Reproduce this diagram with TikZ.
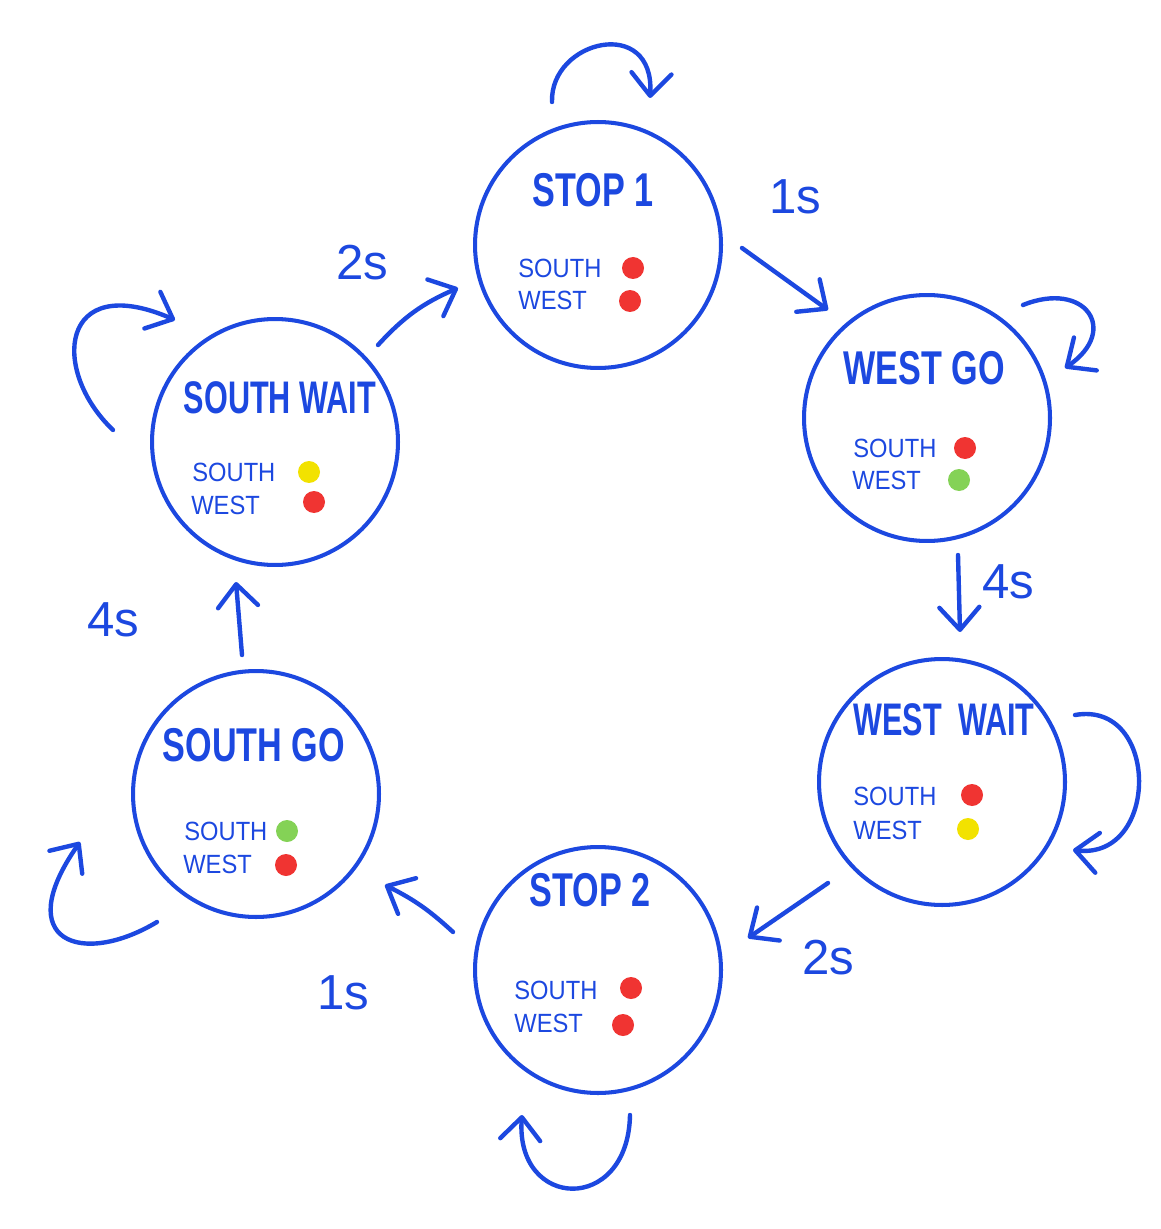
\documentclass[tikz,border=0pt]{standalone}
\usepackage{fontspec}
\setmainfont{Liberation Sans}
\newfontfamily\titlefont[FakeStretch=0.72]{Liberation Sans}
\newfontfamily\narrowtitlefont[FakeStretch=0.67]{Liberation Sans}
\newfontfamily\lightfont[FakeStretch=0.9]{Liberation Sans}
\usetikzlibrary{arrows.meta,calc}
\definecolor{hblue}{RGB}{28,72,224}
\definecolor{lred}{RGB}{240,52,50}
\definecolor{lgreen}{RGB}{132,210,86}
\definecolor{lyellow}{RGB}{242,226,0}
\tikzset{
  statebox/.style={circle,draw=hblue,line width=2.3pt,minimum size=4.92cm,inner sep=0pt},
  titletext/.style={text=hblue,font=\titlefont\bfseries\fontsize{27}{30}\selectfont,inner sep=0pt},
  waittext/.style={text=hblue,font=\narrowtitlefont\bfseries\fontsize{26}{30}\selectfont,inner sep=0pt},
  lighttext/.style={text=hblue,font=\lightfont\fontsize{15}{17}\selectfont,anchor=west,inner sep=0pt},
  lamp/.style={circle,inner sep=0pt,minimum size=0.44cm,fill=#1},
  trans/.style={draw=hblue,line width=2.5pt,line cap=round,line join=round,
     -{Straight Barb[length=4.5mm,width=8mm,round]}},
  timetext/.style={text=hblue,font=\fontsize{28}{30}\selectfont,inner sep=0pt}
}
\begin{document}
\begin{tikzpicture}[x=0.02cm,y=-0.02cm]
\fill[white] (0,0) rectangle (1160,1229);
\useasboundingbox (0,0) rectangle (1160,1229);

% states
\node[statebox] (s1) at (598,245) {};
\node[statebox] (wg) at (927,418) {};
\node[statebox] (ww) at (942,782) {};
\node[statebox] (s2) at (598,970) {};
\node[statebox] (sg) at (256,794) {};
\node[statebox] (sw) at (275,442) {};

% titles
\node[titletext] (t1) at (593,190) {STOP 1};
\node[titletext] (t2) at (924,368) {WEST GO};
\node[waittext] (t3) at (944,720) {WEST\, WAIT};
\node[titletext] (t4) at (590,890) {STOP 2};
\node[titletext] (t5) at (254,745) {SOUTH GO};
\node[waittext] (t6) at (280,398) {SOUTH WAIT};

% lights
\node[lighttext] (s1s) at (518,268) {SOUTH};
\node[lighttext] (s1w) at (518,300) {WEST};
\node[lamp=lred] (s1a) at (633,268) {};
\node[lamp=lred] (s1b) at (630,301) {};

\node[lighttext] (wgs) at (853,448) {SOUTH};
\node[lighttext] (wgw) at (852,480) {WEST};
\node[lamp=lred] (wga) at (965,448) {};
\node[lamp=lgreen] (wgb) at (959,480) {};

\node[lighttext] (wws) at (853,796) {SOUTH};
\node[lighttext] (www) at (853,830) {WEST};
\node[lamp=lred] (wwa) at (972,795) {};
\node[lamp=lyellow] (wwb) at (968,829) {};

\node[lighttext] (s2s) at (514,990) {SOUTH};
\node[lighttext] (s2w) at (514,1023) {WEST};
\node[lamp=lred] (s2a) at (631,988) {};
\node[lamp=lred] (s2b) at (623,1025) {};

\node[lighttext] (sgs) at (184,831) {SOUTH};
\node[lighttext] (sgw) at (183,864) {WEST};
\node[lamp=lgreen] (sga) at (287,831) {};
\node[lamp=lred] (sgb) at (286,865) {};

\node[lighttext] (sws) at (192,472) {SOUTH};
\node[lighttext] (sww) at (191,505) {WEST};
\node[lamp=lyellow] (swa) at (309,472) {};
\node[lamp=lred] (swb) at (314,502) {};

% transitions
\draw[trans] ($(s1.center)+(144,3)$) -- ($(wg.center)+(-99,-108)$);
\draw[trans] ($(wg.center)+(31,137)$) -- ($(ww.center)+(18,-150)$);
\draw[trans] ($(ww.center)+(-114,101)$) -- ($(s2.center)+(150,-32)$);
\draw[trans] ($(s2.center)+(-145,-38)$) to[bend right=8] ($(sg.center)+(129,91)$);
\draw[trans] ($(sg.center)+(-14,-139)$) -- ($(sw.center)+(-39,140)$);
\draw[trans] ($(sw.center)+(103,-97)$) to[bend left=12] ($(s1.center)+(-140,43)$);

% self loops
\draw[trans] ($(s1.center)+(-46,-143)$) .. controls +(-2,-62) and +(5,-83) .. ($(s1.center)+(52,-147)$);
\draw[trans] ($(wg.center)+(96,-113)$) .. controls +(62,-25) and +(55,-38) .. ($(wg.center)+(138,-50)$);
\draw[trans] ($(ww.center)+(133,-67)$) .. controls +(85,-15) and +(87,10) .. ($(ww.center)+(131,68)$);
\draw[trans] ($(s2.center)+(32,145)$) .. controls +(-2,100) and +(-7,95) .. ($(s2.center)+(-76,145)$);
\draw[trans] ($(sg.center)+(-99,128)$) .. controls +(-75,45) and +(-70,100) .. ($(sg.center)+(-176,48)$);
\draw[trans] ($(sw.center)+(-162,-12)$) .. controls +(-63,-60) and +(-115,-50) .. ($(sw.center)+(-100,-122)$);

% timings
\node[timetext] (d1) at (795,197) {1s};
\node[timetext] (d2) at (1008,582) {4s};
\node[timetext] (d3) at (828,958) {2s};
\node[timetext] (d4) at (343,993) {1s};
\node[timetext] (d5) at (113,620) {4s};
\node[timetext] (d6) at (362,263) {2s};
\end{tikzpicture}
\end{document}
